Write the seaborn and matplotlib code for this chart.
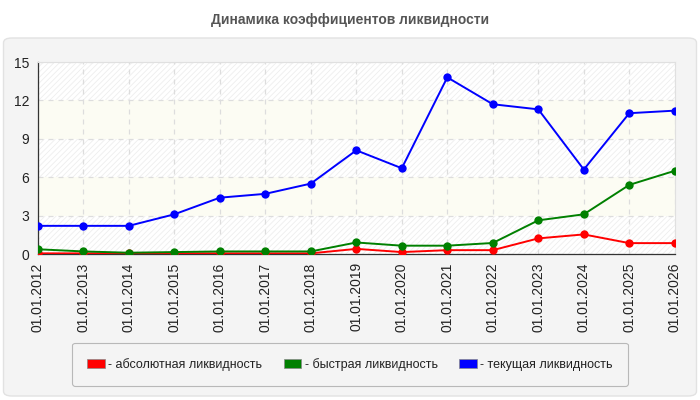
import pandas as pd
import numpy as np
import matplotlib
matplotlib.use("Agg")
import matplotlib.pyplot as plt
import seaborn as sns
from matplotlib.patches import FancyBboxPatch, Patch

# data
dates = ['01.01.2012', '01.01.2013', '01.01.2014', '01.01.2015', '01.01.2016',
         '01.01.2017', '01.01.2018', '01.01.2019', '01.01.2020', '01.01.2021',
         '01.01.2022', '01.01.2023', '01.01.2024', '01.01.2025', '01.01.2026']
absolute = [0.05, 0.05, 0.05, 0.05, 0.05, 0.05, 0.05, 0.4, 0.15, 0.3, 0.3, 1.22, 1.53, 0.85, 0.85]
quick = [0.37, 0.2, 0.1, 0.15, 0.2, 0.2, 0.2, 0.9, 0.65, 0.65, 0.86, 2.63, 3.1, 5.4, 6.5]
current = [2.2, 2.2, 2.2, 3.1, 4.4, 4.7, 5.5, 8.1, 6.7, 13.8, 11.7, 11.3, 6.6, 11.0, 11.2]
series_names = ['абсолютная ликвидность', 'быстрая ликвидность', 'текущая ликвидность']
colors = ['#ff0000', '#008000', '#0000ff']
yticks = [0, 3, 6, 9, 12, 15]

df = pd.DataFrame({'date': dates * 3,
                   'value': absolute + quick + current,
                   'series': np.repeat(series_names, len(dates))})
df['x'] = df.groupby('series').cumcount()

sns.set_style("white")
plt.rcParams['font.family'] = ['Liberation Sans', 'DejaVu Sans']
plt.rcParams['hatch.linewidth'] = 0.6

fig = plt.figure(figsize=(7, 4), dpi=100)
fig.patch.set_facecolor('white')
panel = FancyBboxPatch((0.005, 0.01), 0.99, 0.895, boxstyle="round,pad=0,rounding_size=0.012",
                       transform=fig.transFigure, facecolor='#f4f4f4', edgecolor='#e2e2e2',
                       lw=1, zorder=-10)
fig.patches.append(panel)
fig.text(0.5, 0.95, 'Динамика коэффициентов ликвидности', ha='center', va='center',
         fontsize=10, fontweight='bold', color='#555555')

ax = fig.add_axes([0.054, 0.365, 0.91, 0.48])
ax.set_facecolor('white')

# background bands
for lo in range(0, 15, 3):
    if (lo // 3) % 2 == 0:
        ax.axhspan(lo, lo + 3, facecolor='white', edgecolor='#eeeeee', hatch='//////', lw=0, zorder=0)
    else:
        ax.axhspan(lo, lo + 3, facecolor='#fcfcf3', lw=0, zorder=0)

sns.lineplot(data=df, x='x', y='value', hue='series', palette=colors, marker='o',
             markersize=6, markeredgewidth=0, linewidth=1.4, legend=False, ax=ax, zorder=3)

ax.set_xlim(0, len(dates) - 1)
ax.set_ylim(0, 15)
ax.set_xticks(range(len(dates)))
ax.set_xticklabels(dates, rotation=90, fontsize=10, color='#222222')
ax.set_yticks(yticks)
ax.set_yticklabels([str(t) for t in yticks], fontsize=10, color='#222222')
ax.set_xlabel('')
ax.set_ylabel('')
ax.tick_params(axis='both', length=4, width=0.8, color='#333333', pad=2)
ax.grid(True, linestyle=(0, (4, 4)), color='#dddddd', lw=0.9, zorder=1)
ax.set_axisbelow(True)
for s in ['top', 'right']:
    ax.spines[s].set_color('#e0e0e0')
for s in ['left', 'bottom']:
    ax.spines[s].set_color('#333333')
    ax.spines[s].set_linewidth(0.9)

handles = [Patch(facecolor=c, edgecolor='#888888', lw=0.5) for c in colors]
leg = fig.legend(handles, ['- ' + n for n in series_names], loc='center',
                 bbox_to_anchor=(0.5, 0.089), ncol=3, frameon=True, fontsize=9,
                 handlelength=1.4, handleheight=0.7, handletextpad=0.3, columnspacing=1.7,
                 borderpad=1.2, borderaxespad=0, fancybox=True)
leg.get_frame().set_facecolor('#f4f4f4')
leg.get_frame().set_edgecolor('#aaaaaa')
leg.get_frame().set_linewidth(0.8)
for t in leg.get_texts():
    t.set_color('#222222')

plt.savefig('out.png', dpi=100, facecolor=fig.get_facecolor())
